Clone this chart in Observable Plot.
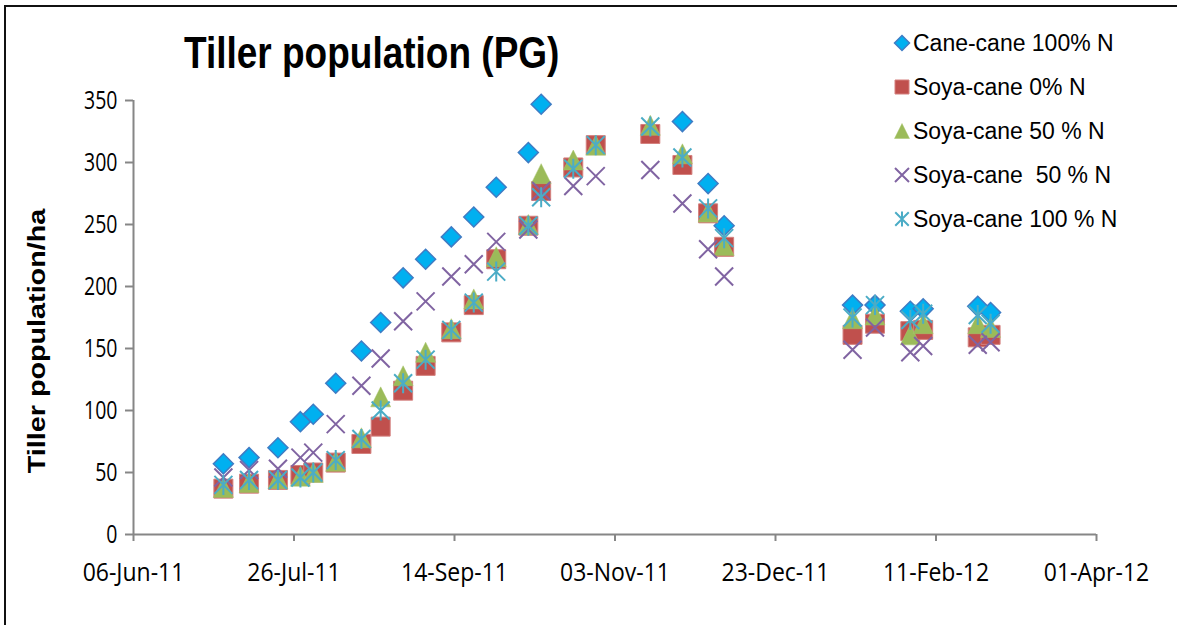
<!DOCTYPE html>
<html><head><meta charset="utf-8">
<script src="https://cdn.jsdelivr.net/npm/d3@7"></script>
<script src="https://cdn.jsdelivr.net/npm/@observablehq/plot@0.6"></script>
<style>
html,body{margin:0;padding:0;background:#fff;}
#wrap{position:relative;width:1177px;height:625px;overflow:hidden;background:#fff;}
#frame{position:absolute;left:4px;top:5px;width:1300px;height:800px;border-left:2px solid #111;border-top:2px solid #111;}
#chart{position:absolute;left:0;top:0;}
#overlay{position:absolute;left:0;top:0;}
</style></head><body>
<div id="wrap"><div id="frame"></div><div id="chart"></div><svg id="overlay" width="1177" height="625"></svg></div>
<script>
// ---- data ----
const dates = ["2011-07-04","2011-07-12","2011-07-21","2011-07-28","2011-08-01","2011-08-08","2011-08-16","2011-08-22","2011-08-29","2011-09-05","2011-09-13","2011-09-20","2011-09-27","2011-10-07","2011-10-11","2011-10-21","2011-10-28","2011-11-14","2011-11-24","2011-12-02","2011-12-07","2012-01-16","2012-01-23","2012-02-03","2012-02-07","2012-02-24","2012-02-28"];
const caneCane100 = [57, 62, 70, 91, 97, 122, 148, 171, 207, 222, 240, 256, 280, 308, 347, null, null, null, 333, 283, 249, 185, 185, 180, 182, 184, 179];
const soyaCane0 = [37, 41, 44, 48, 50, 58, 73, 87, 116, 136, 163, 185, 222, 249, 277, 296, 314, 323, 298, 259, 232, 161, 170, 164, 165, 159, 161];
const soyaCane50a = [38, 42, 45, 47, 50, 59, 78, 111, 128, 147, 166, 190, 224, 250, 291, 302, 314, 330, 307, 260, 233, 174, 177, 161, 170, 170, 167];
const soyaCane50b = [46, 52, 53, 62, 66, 89, 120, 142, 172, 188, 208, 218, 236, 246, 277, 281, 289, 294, 267, 230, 208, 149, 167, 147, 152, 153, 155];
const soyaCane100 = [40, 44, 44, 46, 50, 60, 77, 100, 122, 141, 165, 187, 212, 249, 272, 295, 314, 329, 304, 263, 239, 175, 185, 173, 178, 177, 170];
const seriesNames = ["Cane-cane 100% N", "Soya-cane 0% N", "Soya-cane 50 % N", "Soya-cane  50 % N", "Soya-cane 100 % N"];
const xTicks = ["2011-06-06","2011-07-26","2011-09-14","2011-11-03","2011-12-23","2012-02-11","2012-04-01"];
const yTicks = [0, 50, 100, 150, 200, 250, 300, 350];
const titleText = "Tiller population (PG)";
const yLabelText = "Tiller population/ha";

// ---- symbols ----
const rad = s => Math.sqrt(s / Math.PI);
const diamondSym = {draw(c, s){const r = rad(s); c.moveTo(0,-r); c.lineTo(r,0); c.lineTo(0,r); c.lineTo(-r,0); c.closePath();}};
const squareSym = {draw(c, s){const r = rad(s); c.moveTo(-r,-r); c.lineTo(r,-r); c.lineTo(r,r); c.lineTo(-r,r); c.closePath();}};
const triangleSym = {draw(c, s){const r = rad(s); c.moveTo(0,-r); c.lineTo(r,r); c.lineTo(-r,r); c.closePath();}};
const timesSym = {draw(c, s){const r = rad(s); c.moveTo(-r,-r); c.lineTo(r,r); c.moveTo(-r,r); c.lineTo(r,-r);}};
const starSym = {draw(c, s){const r = rad(s); const d = r*0.9; c.moveTo(0,-r); c.lineTo(0,r); c.moveTo(-d,-d); c.lineTo(d,d); c.moveTo(-d,d); c.lineTo(d,-d);}};

const styles = [
  {symbol: diamondSym, r: 10, fill: "#00B0F0", stroke: "#3F7CC4", strokeWidth: 1.5, lr: 7.5},
  {symbol: squareSym, r: 9.5, fill: "#C0504D", stroke: "#D4807E", strokeWidth: 1, lr: 7},
  {symbol: triangleSym, r: 10, fill: "#9BBB59", stroke: "#A9C56E", strokeWidth: 0.5, lr: 7.5},
  {symbol: timesSym, r: 9, fill: "none", stroke: "#8064A2", strokeWidth: 2, lr: 7},
  {symbol: starSym, r: 10, fill: "none", stroke: "#4BACC6", strokeWidth: 2, lr: 7.5}
];
const seriesValues = [caneCane100, soyaCane0, soyaCane50a, soyaCane50b, soyaCane100];
const parse = s => new Date(s + "T00:00:00Z");

const dotMarks = seriesValues.map((vals, k) => {
  const data = dates.map((d, i) => ({date: parse(d), value: vals[i]})).filter(d => d.value != null);
  const st = styles[k];
  return Plot.dot(data, {x: "date", y: "value", symbol: st.symbol, r: st.r, fill: st.fill, stroke: st.stroke, strokeWidth: st.strokeWidth});
});

const axisColor = "#868686";
const chart = Plot.plot({
  width: 1177, height: 625,
  marginLeft: 133, marginRight: 81, marginTop: 100, marginBottom: 91,
  style: {fontFamily: "'Open Sans', sans-serif", fontSize: "19px", color: "black", background: "transparent", overflow: "visible"},
  x: {type: "utc", domain: [parse(xTicks[0]), parse(xTicks[xTicks.length - 1])]},
  y: {domain: [0, 350]},
  marks: [
    Plot.axisX({ticks: xTicks.map(parse), tickFormat: d3.utcFormat("%d-%b-%y"), tickSize: 7, tickPadding: 22, stroke: axisColor, strokeWidth: 2, fill: "black", label: null, fontSize: 23}),
    Plot.axisY({ticks: yTicks, tickSize: 8, tickPadding: 8, stroke: axisColor, strokeWidth: 2, fill: "black", label: null, fontSize: 19.5}),
    Plot.ruleY([0], {stroke: axisColor, strokeWidth: 2}),
    Plot.ruleX([parse(xTicks[0])], {stroke: axisColor, strokeWidth: 2}),
    ...dotMarks
  ]
});
document.getElementById("chart").appendChild(chart);

// stretch tick labels vertically (the reference picture is stretched)
function stretch(sel, sy) {
  chart.querySelectorAll(sel).forEach(t => {
    const tr = t.getAttribute("transform");
    if (tr) t.setAttribute("transform", tr + ` scale(1,${sy})`);
    else {
      const x = +t.getAttribute("x") || 0, y = +t.getAttribute("y") || 0;
      t.setAttribute("transform", `translate(${x},${y}) scale(1,${sy}) translate(${-x},${-y})`);
    }
  });
}
stretch('g[aria-label="x-axis tick label"] text', 1.1);
stretch('g[aria-label="y-axis tick label"] text', 1.3);

// ---- title, y label, legend ----
const ov = d3.select("#overlay");
ov.append("text").attr("transform", "translate(184,68) scale(1,1.22)")
  .attr("font-family", "'Liberation Sans', Arial, sans-serif").attr("font-weight", "bold").attr("font-size", 37)
  .text(titleText);
ov.append("text").attr("transform", "translate(45,341) rotate(-90) scale(1.25,1)")
  .attr("text-anchor", "middle")
  .attr("font-family", "'Liberation Sans', Arial, sans-serif").attr("font-weight", "bold").attr("font-size", 23)
  .text(yLabelText);
seriesNames.forEach((name, i) => {
  const y = 43 + i * 44;
  const st = styles[i];
  ov.append("path").attr("transform", `translate(902,${y})`)
    .attr("d", d3.symbol(st.symbol, st.lr * st.lr * Math.PI)())
    .attr("fill", st.fill).attr("stroke", st.stroke).attr("stroke-width", st.strokeWidth);
  ov.append("text").attr("transform", `translate(913,${y + 8}) scale(1,1.08)`)
    .attr("font-family", "'Liberation Sans', Arial, sans-serif").attr("font-size", 23)
    .style("white-space", "pre")
    .text(name);
});
</script>
</body></html>
